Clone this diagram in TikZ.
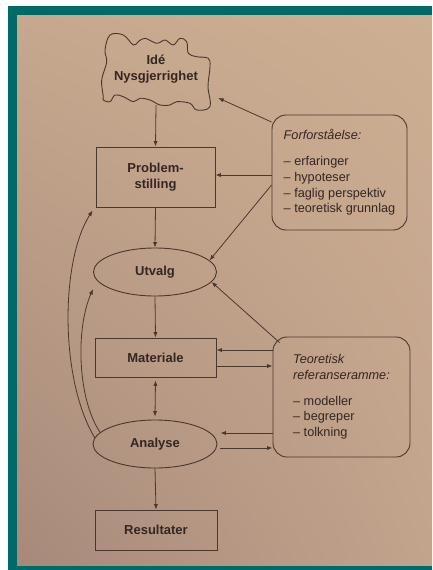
\documentclass[tikz,border=0pt]{standalone}
\usepackage{fontspec}
\setmainfont{Liberation Sans}
\usetikzlibrary{arrows.meta,shapes.geometric,calc,shadings}
\definecolor{tealframe}{RGB}{0,106,104}
\definecolor{paperUL}{RGB}{198,168,142}
\definecolor{paperUR}{RGB}{205,175,147}
\definecolor{paperLL}{RGB}{166,137,122}
\definecolor{paperLR}{RGB}{194,163,140}
\definecolor{ink}{RGB}{74,55,46}
\definecolor{txt}{RGB}{52,38,34}
\newcommand\lblfont{\fontsize{13}{15.5}\selectfont\bfseries}
\newcommand\sidefont{\fontsize{12.7}{15.7}\selectfont}
\begin{document}
\begin{tikzpicture}[x=1pt,y=-1pt,
  box/.style={draw=ink, line width=0.9pt, rectangle, minimum width=121pt, inner sep=0pt, font=\lblfont, text=txt, align=center},
  oval/.style={draw=ink, line width=0.9pt, ellipse, minimum width=123pt, minimum height=48pt, inner sep=0pt, font=\lblfont, text=txt},
  sidebox/.style={draw=ink, line width=0.9pt, rounded corners=14pt, inner sep=0pt, font=\sidefont, text=txt, align=left},
  arr/.style={draw=ink, line width=0.8pt, -{Latex[length=5.5pt,width=4.2pt]}},
  dblarr/.style={draw=ink, line width=0.8pt, {Latex[length=5.5pt,width=4.2pt]}-{Latex[length=5.5pt,width=4.2pt]}}
]
\useasboundingbox (0,0) rectangle (432,570);
\fill[white] (0,0) rectangle (432,570);
\fill[tealframe] (8,6) rectangle (432,570);
\shade[upper left=paperUL, upper right=paperUR, lower left=paperLL, lower right=paperLR] (17,15) rectangle (432,565);

% cloud outline
\draw[ink, line width=0.9pt] plot[smooth cycle, tension=0.6] coordinates {
 (103.3,96.7) (101.7,80) (106.7,62) (105,50) (110,35) (123.3,35) (133.3,45)
 (138.3,41.7) (145,38.3) (156.7,43.3) (165,40) (173.3,45) (180,38.3) (186.7,41.7)
 (188.3,53.3) (196.7,56.7) (208.3,58.3) (210,66.7) (208,86.7) (210,106.7)
 (196.7,110) (190,103.3) (176.7,101.7) (170,105) (160,105) (150,100) (140,98.3)
 (133.3,101.7) (123.3,96.7) (115,95) (110,101.7) (103.3,100)};

\node[font=\lblfont, text=txt, align=center, minimum width=110pt, minimum height=72pt, inner sep=0pt] (idea) at (156,69) {Idé\\Nysgjerrighet};

\node[box, minimum width=119pt, minimum height=60pt] (prob) at (155.5,177) {Problem-\\stilling};
\node[oval] (utv) at (155,272) {Utvalg};
\node[box, minimum height=39pt] (mat) at (155.5,357.5) {Materiale};
\node[oval, minimum width=124pt] (ana) at (155,444) {Analyse};
\node[box, minimum width=122pt, minimum height=40pt] (res) at (156,530) {Resultater};

\node[sidebox, minimum width=135pt, minimum height=115pt] (ff) at (339.5,172.5)
 {\textit{Forforståelse:}\\[10pt]– erfaringer\\– hypoteser\\– faglig perspektiv\\– teoretisk grunnlag};
\node[sidebox, minimum width=137pt, minimum height=120pt] (tr) at (341.5,397)
 {\textit{Teoretisk}\\\textit{referanseramme:}\\[10pt]– modeller\\– begreper\\– tolkning};

% vertical chain
\draw[arr] (idea.south) -- (prob.north);
\draw[arr] (prob.south) -- (utv.north);
\draw[arr] (utv.south) -- (mat.north);
\draw[dblarr] ([yshift=-3pt]mat.south) -- ([yshift=3pt]ana.north);
\draw[arr] (ana.south) -- (res.north);

% from Forforståelse
\draw[arr] ([yshift=50.5pt]ff.west) -- ([shift={(7pt,-29pt)}]idea.east);
\draw[arr] ([yshift=-2.5pt]ff.west) -- ([yshift=-2.5pt]ff.west -| prob.east);
\draw[arr] ([yshift=-12.5pt]ff.west) -- (utv.12);

% from Teoretisk referanseramme
\draw[arr] ([shift={(7pt,-6pt)}]tr.north west) -- (utv.-10);
\draw[arr] ([yshift=47pt]tr.west) -- ([yshift=47pt]tr.west -| mat.east);
\draw[arr] ([yshift=31pt]tr.west -| mat.east) -- ([yshift=31pt]tr.west);
\draw[arr] ([yshift=-36pt]tr.west) -- ([shift={(3pt,-36pt)}]tr.west -| ana.east);
\draw[arr] ([shift={(3pt,-51pt)}]tr.west -| ana.east) -- ([yshift=-51pt]tr.west);

% feedback curves
\coordinate (probtip) at ([shift={(-3pt,-3pt)}]prob.south west);
\coordinate (utvtip) at ([yshift=-17pt]utv.west);
\draw[arr] (ana.174) .. controls (60,380) and (60,262) .. (probtip);
\draw[arr] (ana.168) .. controls (78,400) and (75,330) .. (utvtip);
\end{tikzpicture}
\end{document}
